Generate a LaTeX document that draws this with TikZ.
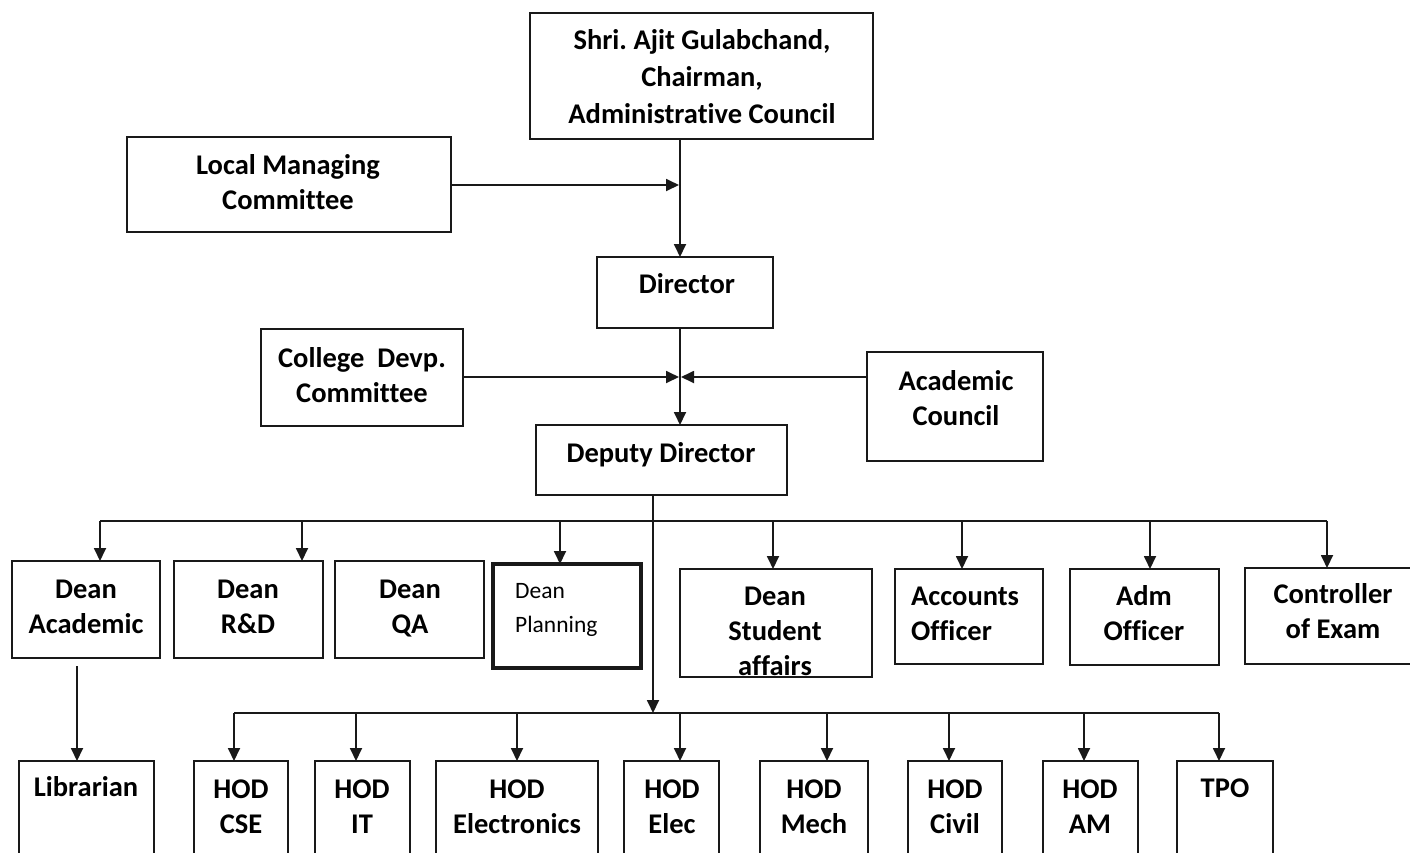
\documentclass[tikz,border=0pt]{standalone}
\usepackage{fontspec}
\setmainfont{Carlito}[Ligatures=NoCommon]
\usetikzlibrary{arrows.meta}
\frenchspacing
\tikzset{
  box/.style={draw=black!90, line width=1.8pt, rectangle, inner sep=0pt, outer sep=0pt},
  txt/.style={font=\fontsize{28.5}{35}\selectfont\bfseries, anchor=base, inner sep=0pt, align=center, text=black},
  ln/.style={draw=black!90, line width=1.8pt},
  arr/.style={ln, -{Triangle[length=13pt,width=12pt]}},
}
\newcommand\mkbox[6][]{\node[box,#1,minimum width={(#5-#3)*1pt},minimum height={(#6-#4)*1pt}] (#2) at ({(#3+#5)/2},{(#4+#6)/2}) {};}
\begin{document}
\begin{tikzpicture}[x=1pt,y=-1pt]
\useasboundingbox (0,0) rectangle (1410,852);
% boxes
\mkbox{chair}{530}{13}{873}{139}
\mkbox{lmc}{127}{137}{451}{232}
\mkbox{dir}{597}{257}{773}{328}
\mkbox{cdc}{261}{329}{463}{426}
\mkbox{ac}{867}{352}{1043}{461}
\mkbox{dep}{536}{425}{787}{495}
\mkbox{deanac}{12}{561}{160}{658}
\mkbox{deanrd}{174}{561}{323}{658}
\mkbox{deanqa}{335}{561}{484}{658}
\mkbox[line width=3.4pt]{deanpl}{493}{564}{641}{668}
\mkbox{deansa}{680}{569}{872}{677}
\mkbox{acc}{895}{569}{1043}{664}
\mkbox{adm}{1070}{569}{1219}{665}
\mkbox{coe}{1245}{568}{1422}{664}
\mkbox{lib}{19}{761}{154}{880}
\mkbox{cse}{194}{761}{288}{880}
\mkbox{it}{315}{761}{410}{880}
\mkbox{ece}{436}{761}{598}{880}
\mkbox{elec}{624}{761}{719}{880}
\mkbox{mech}{760}{761}{868}{880}
\mkbox{civil}{908}{761}{1002}{880}
\mkbox{am}{1043}{761}{1138}{880}
\mkbox{tpo}{1177}{761}{1273}{880}
% texts (anchor = baseline of last line)
\node[txt,font=\fontsize{28.5}{37}\selectfont\bfseries] (chair-t) at (702,123) {Shri. Ajit Gulabchand,\\Chairman,\\Administrative Council};
\node[txt] (lmc-t) at (288,209) {Local Managing\\Committee};
\node[txt] (dir-t) at (687,293) {Director};
\node[txt] (cdc-t) at (362,402) {College\ \ Devp.\\Committee};
\node[txt] (ac-t) at (956,425) {Academic\\Council};
\node[txt] (dep-t) at (661,462) {Deputy Director};
\node[txt] (deanac-t) at (86,633) {Dean\\Academic};
\node[txt] (deanrd-t) at (248,633) {Dean\\R\&D};
\node[txt] (deanqa-t) at (410,633) {Dean\\QA};
\node[txt,font=\fontsize{23.5}{34}\selectfont,align=left,anchor=base west] (deanpl-t) at (515,632) {Dean\\Planning};
\node[txt] (deansa-t) at (775,675) {Dean\\Student\\affairs};
\node[txt,align=left,anchor=base west] (acc-t) at (911,640) {Accounts\\Officer};
\node[txt] (adm-t) at (1144,640) {Adm\\Officer};
\node[txt] (coe-t) at (1333,638) {Controller\\of Exam};
\node[txt] (lib-t) at (86,796) {Librarian};
\node[txt] (cse-t) at (241,833) {HOD\\CSE};
\node[txt] (it-t) at (362,833) {HOD\\IT};
\node[txt] (ece-t) at (517,833) {HOD\\Electronics};
\node[txt] (elec-t) at (672,833) {HOD\\Elec};
\node[txt] (mech-t) at (814,833) {HOD\\Mech};
\node[txt] (civil-t) at (955,833) {HOD\\Civil};
\node[txt] (am-t) at (1090,833) {HOD\\AM};
\node[txt] (tpo-t) at (1225,797) {TPO};
% junctions
\coordinate (j1) at (680,185);
\coordinate (j2) at (680,377);
\coordinate (b2) at (653,713);
\coordinate (bus1L) at (100,521);
\coordinate (bus1R) at (1327,521);
\coordinate (bus2L) at (234,713);
\coordinate (bus2R) at (1219,713);
% top connectors
\draw[arr] (chair.south -| j1) -- (dir.north -| j1);
\draw[arr] (lmc.east |- j1) -- ([xshift=-1pt]j1);
\draw[arr] (dir.south -| j2) -- (dep.north -| j2);
\draw[arr] (cdc.east |- j2) -- ([xshift=-1pt]j2);
\draw[arr] (ac.west |- j2) -- ([xshift=1pt]j2);
\draw[arr] (dep.south -| b2) -- (b2);
% bus 1
\draw[ln] (bus1L) -- (bus1R);
\coordinate (t1) at (100,521);
\coordinate (t2) at (302,521);
\coordinate (t3) at (560,521);
\coordinate (t4) at (773,521);
\coordinate (t5) at (962,521);
\coordinate (t6) at (1150,521);
\coordinate (t7) at (1327,521);
\draw[arr] (t1) -- (t1 |- deanac.north);
\draw[arr] (t2) -- (t2 |- deanrd.north);
\draw[arr] (t3) -- (t3 |- deanpl.north);
\draw[arr] (t4) -- (t4 |- deansa.north);
\draw[arr] (t5) -- (t5 |- acc.north);
\draw[arr] (t6) -- (t6 |- adm.north);
\draw[arr] (t7) -- (t7 |- coe.north);
% librarian
\coordinate (la) at (77,666);
\draw[arr] (la) -- (la |- lib.north);
% bus 2
\draw[ln] (bus2L) -- (bus2R);
\coordinate (u1) at (234,713);
\coordinate (u2) at (356,713);
\coordinate (u3) at (517,713);
\coordinate (u4) at (680,713);
\coordinate (u5) at (827,713);
\coordinate (u6) at (949,713);
\coordinate (u7) at (1084,713);
\coordinate (u8) at (1219,713);
\draw[arr] (u1) -- (u1 |- cse.north);
\draw[arr] (u2) -- (u2 |- it.north);
\draw[arr] (u3) -- (u3 |- ece.north);
\draw[arr] (u4) -- (u4 |- elec.north);
\draw[arr] (u5) -- (u5 |- mech.north);
\draw[arr] (u6) -- (u6 |- civil.north);
\draw[arr] (u7) -- (u7 |- am.north);
\draw[arr] (u8) -- (u8 |- tpo.north);
\end{tikzpicture}
\end{document}
